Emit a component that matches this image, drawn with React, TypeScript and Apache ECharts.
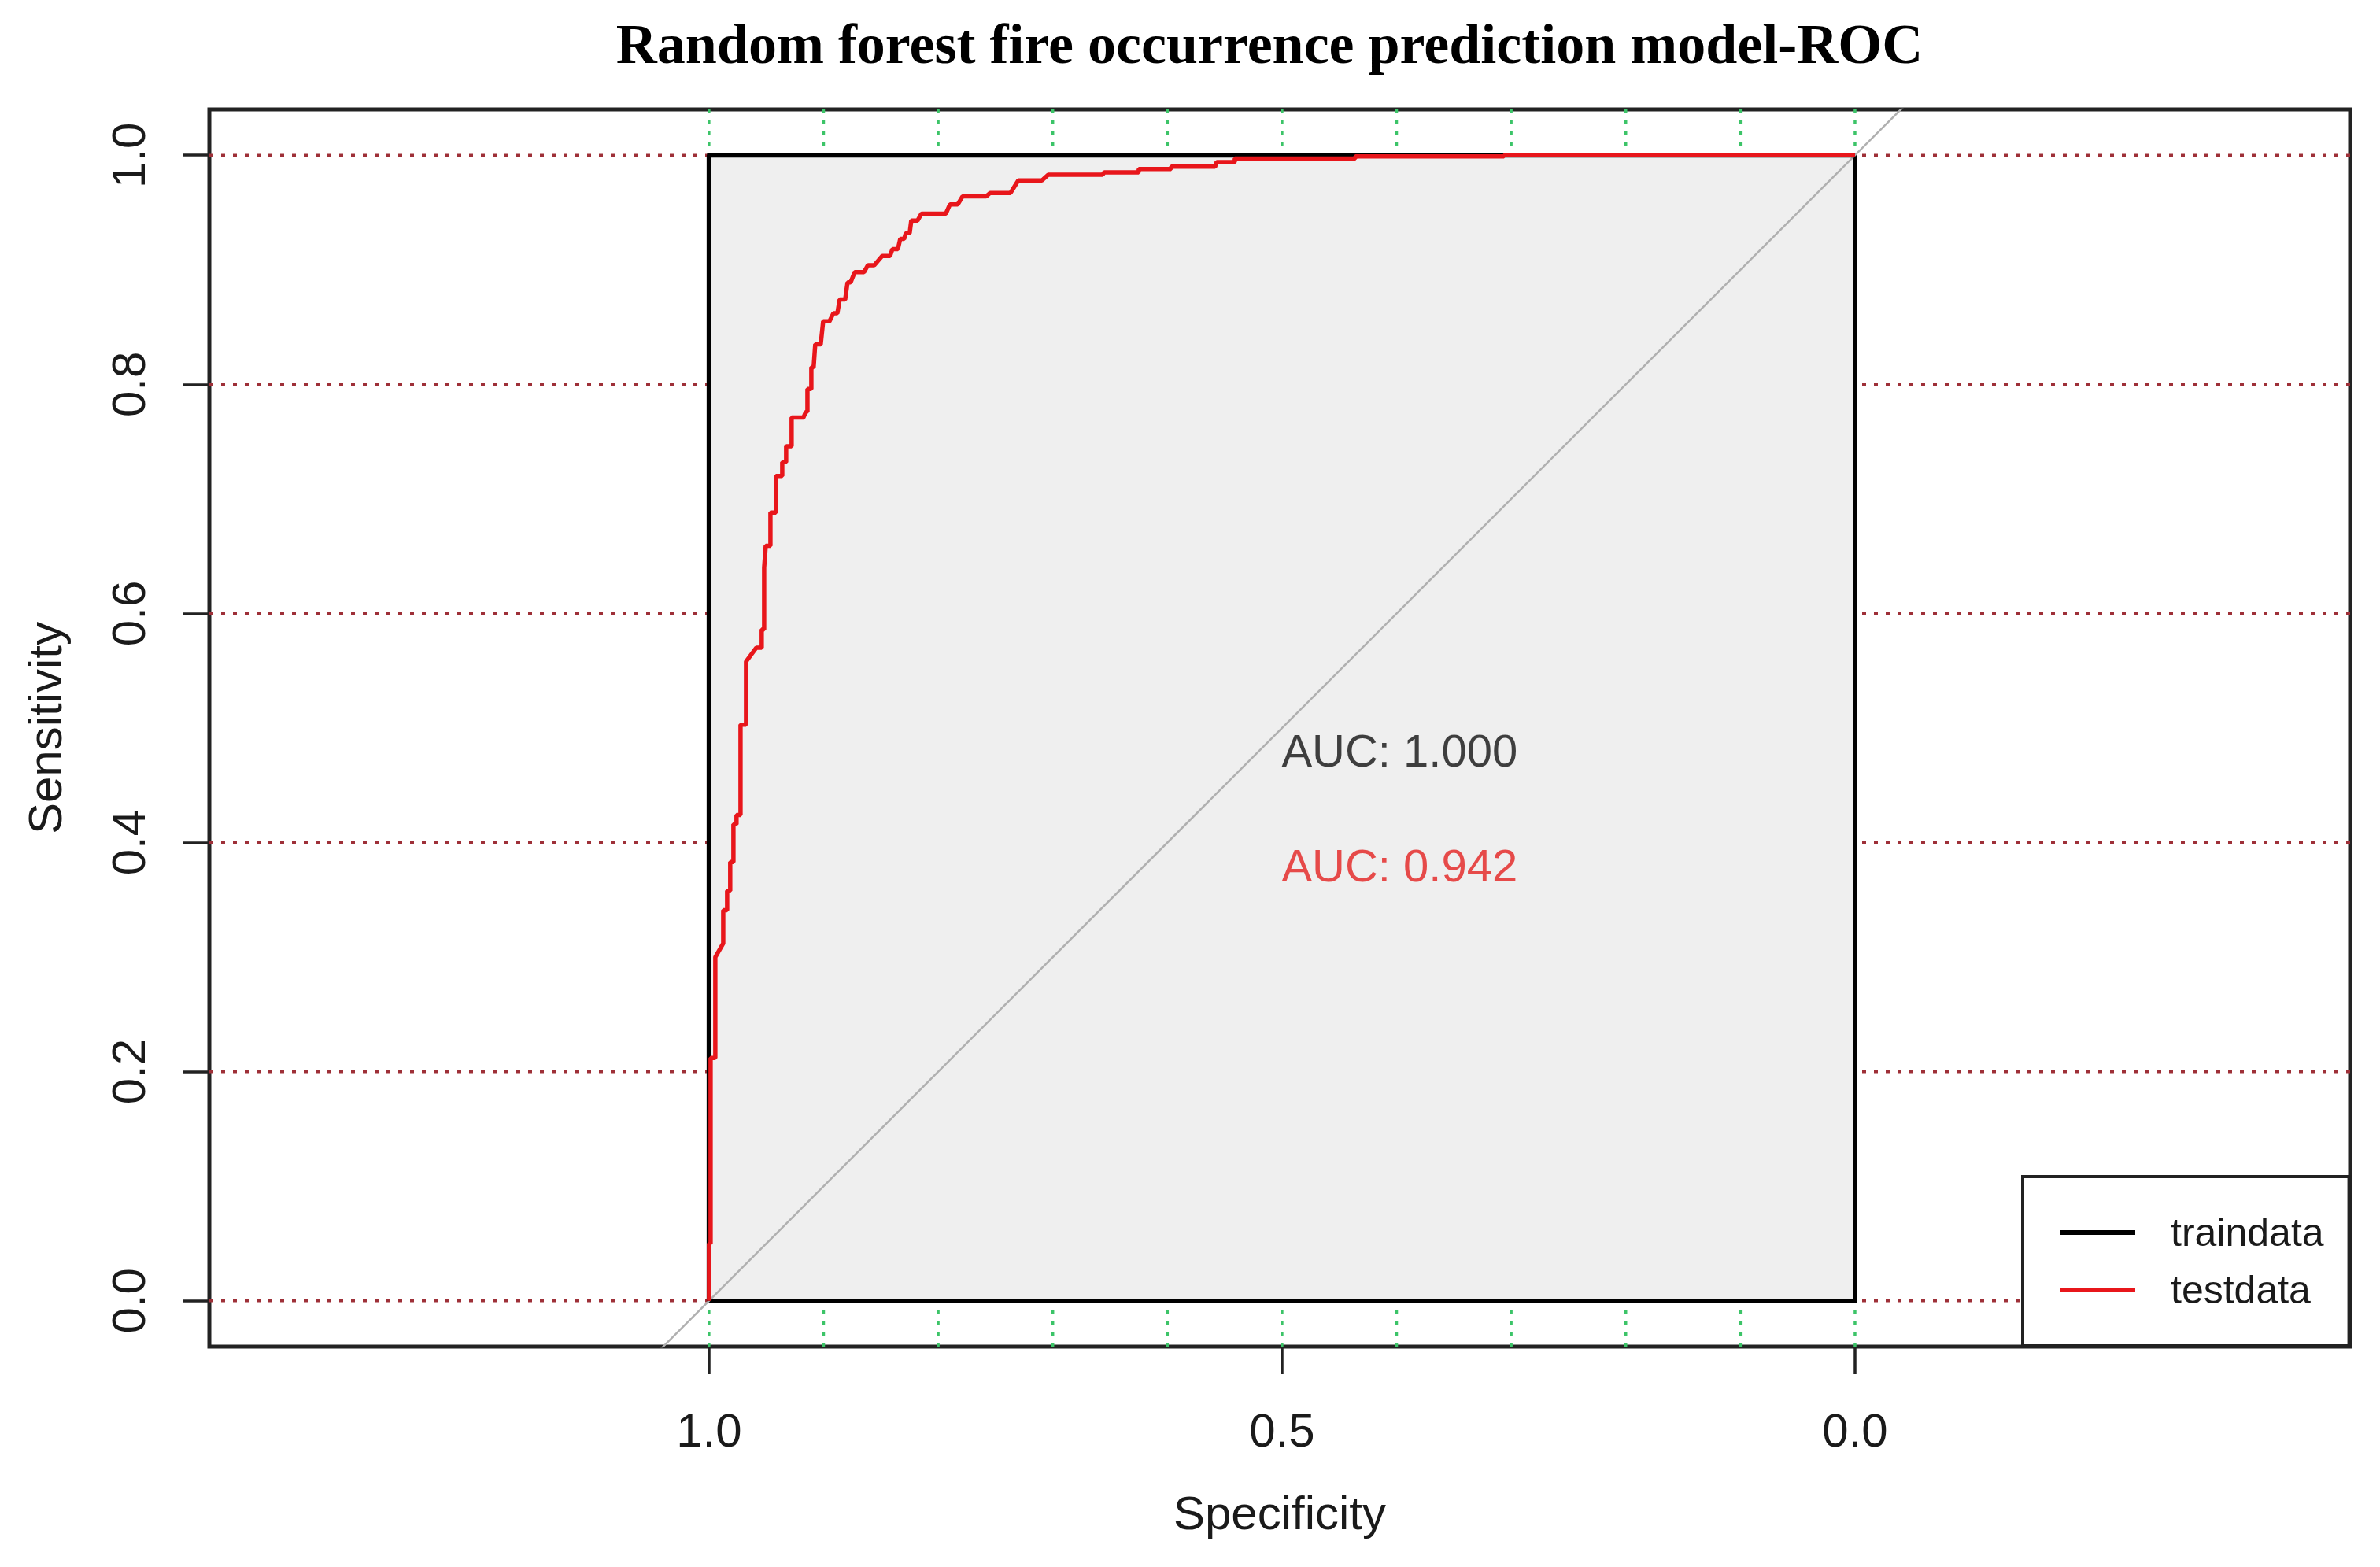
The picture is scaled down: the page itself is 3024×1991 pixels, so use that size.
import React, { useEffect, useRef } from 'react';
import * as echarts from 'echarts';

// ---------- texts ----------
const titleText = 'Random forest fire occurrence prediction model-ROC';
const xAxisName = 'Specificity';
const yAxisName = 'Sensitivity';
const legendNames = ['traindata', 'testdata'];

// ---------- axes ----------
const X_MIN = -0.432;
const X_MAX = 1.436;
const Y_MIN = -0.04;
const Y_MAX = 1.04;
const xTickValues = [1, 0.5, 0];
const yTickValues = [0, 0.2, 0.4, 0.6, 0.8, 1.0];
const xGridValues = [1.0, 0.9, 0.8, 0.7, 0.6, 0.5, 0.4, 0.3, 0.2, 0.1, 0.0];
const yGridValues = [0, 0.2, 0.4, 0.6, 0.8, 1.0];

// ---------- data ----------
const trainSpecificity = [1, 1, 0];
const trainSensitivity = [0, 1, 1];

const testSpecificity = [
  1.0, 1.0, 0.9986, 0.9986, 0.9945, 0.9945, 0.9876, 0.9876, 0.9842, 0.9842,
  0.9815, 0.9815, 0.9787, 0.9787, 0.976, 0.976, 0.9725, 0.9725, 0.9677, 0.9677,
  0.9588, 0.954, 0.954, 0.9519, 0.9519, 0.9505, 0.9464, 0.9464, 0.9416, 0.9416,
  0.9361, 0.9361, 0.9327, 0.9327, 0.9279, 0.9279, 0.9176, 0.9155, 0.9141, 0.9141,
  0.9107, 0.9107, 0.9087, 0.9073, 0.9025, 0.9004, 0.8949, 0.8915, 0.888, 0.886,
  0.8812, 0.8791, 0.8764, 0.8729, 0.8647, 0.8613, 0.8558, 0.8489, 0.842, 0.84,
  0.8352, 0.8331, 0.8297, 0.8283, 0.8249, 0.8235, 0.818, 0.8146, 0.7933, 0.7898,
  0.783, 0.7788, 0.7582, 0.7548, 0.737, 0.7301, 0.7095, 0.704, 0.6566, 0.6552,
  0.625, 0.625, 0.5968, 0.5968, 0.5584, 0.557, 0.5412, 0.5412, 0.4361, 0.4361,
  0.3063, 0.3063, 0.0,
];
const testSensitivity = [
  0.0, 0.05, 0.05, 0.212, 0.212, 0.3, 0.312, 0.341, 0.341, 0.358,
  0.358, 0.383, 0.383, 0.416, 0.416, 0.424, 0.424, 0.503, 0.503, 0.558,
  0.57, 0.57, 0.586, 0.586, 0.64, 0.659, 0.659, 0.688, 0.688, 0.72,
  0.72, 0.732, 0.732, 0.746, 0.746, 0.771, 0.771, 0.776, 0.776, 0.796,
  0.796, 0.815, 0.815, 0.835, 0.835, 0.855, 0.855, 0.862, 0.862, 0.874,
  0.874, 0.889, 0.889, 0.898, 0.898, 0.904, 0.904, 0.912, 0.912, 0.918,
  0.918, 0.927, 0.927, 0.932, 0.932, 0.943, 0.943, 0.949, 0.949, 0.957,
  0.957, 0.964, 0.964, 0.967, 0.967, 0.978, 0.978, 0.983, 0.983, 0.985,
  0.985, 0.988, 0.988, 0.99, 0.99, 0.994, 0.994, 0.997, 0.997, 0.999,
  0.999, 1.0, 1.0,
];

// max AUC polygon (grey square) and chance diagonal
const polygonSpecificity = [1, 1, 0, 0];
const polygonSensitivity = [0, 1, 1, 0];
const diagonalSpecificity = [1.1, -0.1];
const diagonalSensitivity = [-0.1, 1.1];

// AUC annotations
const aucTexts = ['AUC: 1.000', 'AUC: 0.942'];
const aucSpecificity = [0.5, 0.5];
const aucSensitivity = [0.5, 0.4];

// ---------- styles ----------
const TRAIN_COLOR = '#000000';
const TEST_COLOR = '#e8161b';
const aucColors = ['#111111', '#e3201f'];
const TEXT_COLOR = '#1a1a1a';
const SANS = 'Liberation Sans, Arial, sans-serif';
const SERIF = 'Liberation Serif, Times New Roman, serif';

const zip = (a: number[], b: number[]) => a.map((v, i) => [v, b[i]]);

function buildOption(): any {
  const hGrid = yGridValues.map((v) => ({
    type: 'line',
    z: 1,
    silent: true,
    symbol: 'none',
    data: [
      [X_MIN, v],
      [X_MAX, v],
    ],
    lineStyle: { color: '#9e3038', width: 3.5, type: [5, 10] },
  }));
  const vGrid = xGridValues.map((v) => ({
    type: 'line',
    z: 1,
    silent: true,
    symbol: 'none',
    data: [
      [v, Y_MIN],
      [v, Y_MAX],
    ],
    lineStyle: { color: '#3cc468', width: 3.5, type: [5, 9] },
  }));

  return {
    animation: false,
    backgroundColor: '#ffffff',
    title: {
      text: titleText,
      left: 1613,
      top: 20,
      padding: 0,
      textAlign: 'center',
      textStyle: { fontFamily: SERIF, fontWeight: 'bold', fontSize: 72, color: '#000' },
    },
    legend: {
      data: legendNames,
      orient: 'vertical',
      left: 2570,
      top: 1495,
      padding: [46, 32, 46, 47],
      itemGap: 23,
      itemWidth: 96,
      itemHeight: 6,
      icon: 'rect',
      backgroundColor: '#ffffff',
      borderColor: '#222',
      borderWidth: 4,
      borderRadius: 0,
      selectedMode: false,
      textStyle: { fontSize: 50, fontFamily: SANS, color: TEXT_COLOR, padding: [0, 0, 0, 40] },
    },
    grid: {
      left: 266,
      top: 139,
      width: 2720,
      height: 1572,
      show: true,
      borderColor: '#222',
      borderWidth: 5,
      backgroundColor: 'transparent',
      containLabel: false,
      outerBoundsMode: 'none',
    },
    xAxis: {
      type: 'value',
      inverse: true,
      min: X_MIN,
      max: X_MAX,
      axisLine: { show: false, onZero: false },
      splitLine: { show: false },
      axisTick: {
        show: true,
        customValues: xTickValues,
        length: 35,
        lineStyle: { color: '#222', width: 3.5 },
      },
      axisLabel: {
        customValues: xTickValues,
        formatter: (v: number) => Number(v).toFixed(1),
        margin: 76,
        fontSize: 60,
        fontFamily: SANS,
        color: TEXT_COLOR,
      },
      name: xAxisName,
      nameLocation: 'middle',
      nameGap: 181,
      nameMoveOverlap: false,
      nameTextStyle: { fontSize: 60, fontFamily: SANS, color: TEXT_COLOR },
    },
    yAxis: {
      type: 'value',
      min: Y_MIN,
      max: Y_MAX,
      axisLine: { show: false, onZero: false },
      splitLine: { show: false },
      axisTick: {
        show: true,
        customValues: yTickValues,
        length: 34,
        lineStyle: { color: '#222', width: 3.5 },
      },
      axisLabel: {
        customValues: yTickValues,
        formatter: (v: number) => Number(v).toFixed(1),
        rotate: 90,
        margin: 73,
        fontSize: 60,
        fontFamily: SANS,
        color: TEXT_COLOR,
      },
      name: yAxisName,
      nameLocation: 'middle',
      nameGap: 179,
      nameMoveOverlap: false,
      nameTextStyle: { fontSize: 60, fontFamily: SANS, color: TEXT_COLOR },
    },
    series: [
      ...hGrid,
      ...vGrid,
      {
        type: 'custom',
        z: 2,
        silent: true,
        data: [[0.5, 0.5]],
        renderItem: (_params: any, api: any) => ({
          type: 'polygon',
          shape: {
            points: polygonSpecificity.map((s, i) => api.coord([s, polygonSensitivity[i]])),
          },
          style: { fill: '#efefef', stroke: '#000', lineWidth: 5 },
        }),
      },
      {
        type: 'line',
        z: 3,
        silent: true,
        symbol: 'none',
        data: zip(diagonalSpecificity, diagonalSensitivity),
        lineStyle: { color: '#b0b0b0', width: 2.5 },
      },
      {
        name: legendNames[0],
        type: 'line',
        z: 4,
        color: TRAIN_COLOR,
        symbol: 'none',
        data: zip(trainSpecificity, trainSensitivity),
        lineStyle: { color: TRAIN_COLOR, width: 6 },
      },
      {
        name: legendNames[1],
        type: 'line',
        z: 5,
        color: TEST_COLOR,
        symbol: 'none',
        data: zip(testSpecificity, testSensitivity),
        lineStyle: { color: TEST_COLOR, width: 5.5 },
      },
      {
        type: 'scatter',
        z: 6,
        silent: true,
        symbolSize: 1,
        itemStyle: { color: 'transparent' },
        label: {
          show: true,
          position: [0, 0],
          align: 'left',
          verticalAlign: 'top',
          fontSize: 58,
          fontFamily: SANS,
          formatter: (p: any) => aucTexts[p.dataIndex],
        },
        data: aucTexts.map((_t, i) => ({
          value: [aucSpecificity[i], aucSensitivity[i]],
          label: { color: aucColors[i] },
        })),
      },
    ],
  };
}

export default function App() {
  const ref = useRef<HTMLDivElement>(null);
  useEffect(() => {
    if (!ref.current) return;
    const chart = echarts.init(ref.current, null, { renderer: 'svg' });
    chart.setOption(buildOption());
    return () => chart.dispose();
  }, []);
  return (
    <div
      ref={ref}
      style={{ position: 'absolute', left: 0, top: 0, width: 3024, height: 1991, background: '#fff' }}
    />
  );
}
